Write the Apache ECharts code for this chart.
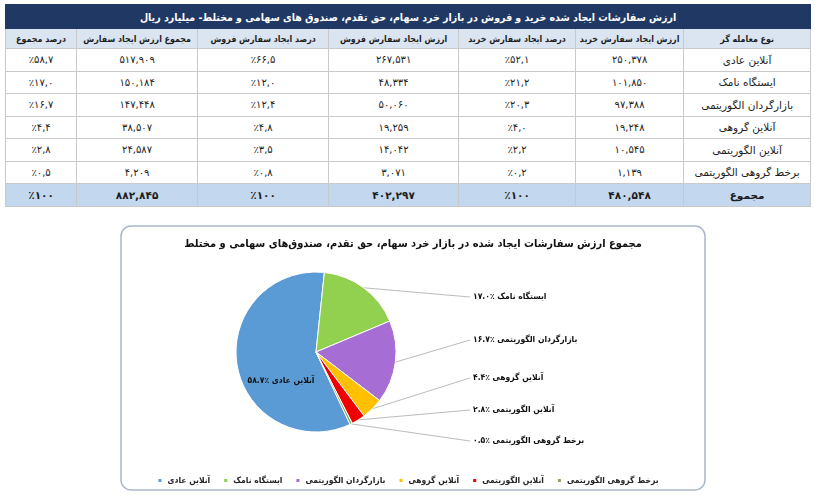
<!DOCTYPE html>
<html lang="fa">
<head>
    <meta charset="UTF-8">
    <title>ارزش سفارشات ایجاد شده</title>
    <style>
        html, body { margin: 0; padding: 0; background: #fff; }
        body { width: 815px; height: 496px; position: relative; overflow: hidden; font-family: 'DejaVu Sans', sans-serif; }
        .tbl { position: absolute; left: 5px; top: 4px; width: 806px; border-collapse: collapse; table-layout: fixed; border: 1.5px solid #27344f; }
        .tbl td, .tbl th { border: 1px solid #c9c9c9; text-align: center; padding: 0; white-space: nowrap; overflow: hidden; color: #1d1d1d; }
        .tbl .cap td { background: #1f3864; color: #fff; font-family: 'DejaVu Sans Condensed', 'DejaVu Sans'; font-weight: bold; font-size: 10.5px; height: 23px; border-color: #1f3864; }
        .tbl .head th { background: #dbe5f1; font-family: 'DejaVu Sans Condensed', 'DejaVu Sans'; font-size: 8.8px; height: 19px; }
        .tbl .row td { height: 21.5px; font-size: 10px; }
        .tbl .row td.name { font-size: 10.5px; }
        .tbl .sum td { background: #c3d8ee; font-weight: bold; font-size: 10.5px; height: 21.5px; }
        #chart { position: absolute; left: 0; top: 0; width: 815px; height: 496px; }
    </style>
</head>
<body>
<table class="tbl" dir="rtl" id="tbl"></table>
<div id="chart"></div>

<script src="https://cdn.jsdelivr.net/npm/echarts/dist/echarts.min.js"></script>
<script>
    // ---- data (میلیارد ریال) ----
    var tableTitle = 'ارزش سفارشات ایجاد شده خرید و فروش در بازار خرد سهام، حق تقدم، صندوق های سهامی و مختلط- میلیارد ریال';
    var columns = ['نوع معامله گر', 'ارزش ایجاد سفارش خرید', 'درصد ایجاد سفارش خرید', 'ارزش ایجاد سفارش فروش', 'درصد ایجاد سفارش فروش', 'مجموع ارزش ایجاد سفارش', 'درصد مجموع'];
    var traders = ['آنلاین عادی', 'ایستگاه نامک', 'بازارگردان الگوریتمی', 'آنلاین گروهی', 'آنلاین الگوریتمی', 'برخط گروهی الگوریتمی'];
    var buyValue = [250378, 101850, 97388, 19248, 10545, 1139];
    var buyPct = [52.1, 21.2, 20.3, 4.0, 2.2, 0.2];
    var sellValue = [267531, 48334, 50060, 19259, 14042, 3071];
    var sellPct = [66.5, 12.0, 12.4, 4.8, 3.5, 0.8];
    var totalValue = [517909, 150184, 147448, 38507, 24587, 4209];
    var totalPct = [58.7, 17.0, 16.7, 4.4, 2.8, 0.5];
    var sumLabel = 'مجموع';
    var sumValues = [480548, 402297, 882845];

    var chartTitle = 'مجموع ارزش سفارشات ایجاد شده در بازار خرد سهام، حق تقدم، صندوق‌های سهامی و مختلط';
    var colors = ['#5b9bd5', '#92d050', '#a66ed5', '#ffc000', '#f00000', '#86a864'];

    // ---- helpers ----
    var faDigits = '۰۱۲۳۴۵۶۷۸۹';
    function toFa(s) {
        return String(s).replace(/\d/g, function (d) { return faDigits[d]; });
    }
    function fmtValue(v) {
        return toFa(String(v).replace(/\B(?=(\d{3})+(?!\d))/g, ','));
    }
    function fmtPct(p, sep) {
        var s = p === 100 ? '100' : p.toFixed(1).replace('.', sep);
        return '٪' + toFa(s);
    }

    // ---- table ----
    var widths = [127, 108, 117, 130, 131, 121, 71];
    var html = '<colgroup>' + widths.map(function (w) { return '<col style="width:' + w + 'px">'; }).join('') + '</colgroup>';
    html += '<tr class="cap"><td colspan="7">' + tableTitle + '</td></tr>';
    html += '<tr class="head">' + columns.map(function (c) { return '<th>' + c + '</th>'; }).join('') + '</tr>';
    for (var i = 0; i < traders.length; i++) {
        html += '<tr class="row"><td class="name">' + traders[i] + '</td>' +
            '<td>' + fmtValue(buyValue[i]) + '</td>' +
            '<td>' + fmtPct(buyPct[i], ',') + '</td>' +
            '<td>' + fmtValue(sellValue[i]) + '</td>' +
            '<td>' + fmtPct(sellPct[i], ',') + '</td>' +
            '<td>' + fmtValue(totalValue[i]) + '</td>' +
            '<td>' + fmtPct(totalPct[i], ',') + '</td></tr>';
    }
    html += '<tr class="sum"><td>' + sumLabel + '</td>' +
        '<td>' + fmtValue(sumValues[0]) + '</td><td>' + fmtPct(100) + '</td>' +
        '<td>' + fmtValue(sumValues[1]) + '</td><td>' + fmtPct(100) + '</td>' +
        '<td>' + fmtValue(sumValues[2]) + '</td><td>' + fmtPct(100) + '</td></tr>';
    document.getElementById('tbl').innerHTML = html;

    // ---- pie ----
    var sum = totalValue.reduce(function (a, b) { return a + b; }, 0);
    var pieData = traders.map(function (name, i) {
        var item = { name: name, value: totalValue[i], itemStyle: { color: colors[i] } };
        if (i === 0) {
            item.label = { position: 'inside' };
            item.labelLine = { show: false };
        }
        return item;
    });
    // label placement (px), outside labels line up on the right
    var labelX = 473;
    var labelY = [381, 297, 340, 378, 410, 441];
    var insideX = 281;
    var cond = '"DejaVu Sans Condensed", "DejaVu Sans"';

    var myChart = echarts.init(document.getElementById('chart'));
    var option = {
        animation: false,
        textStyle: { fontFamily: cond },
        graphic: [
            {
                type: 'rect', z: -10,
                shape: { x: 121, y: 226, width: 584, height: 264, r: 10 },
                style: { fill: '#fff', stroke: '#a9b7ca', lineWidth: 1.5 }
            },
            {
                type: 'text', z: 10,
                x: 413, y: 244,
                style: { text: chartTitle, align: 'center', verticalAlign: 'middle', font: 'bold 11px ' + cond, fill: '#111' }
            }
        ],
        legend: {
            left: 'center',
            top: 471,
            icon: 'rect',
            itemWidth: 5,
            itemHeight: 5,
            itemGap: 12,
            textStyle: { fontSize: 8.5, fontWeight: 'bold', color: '#262626', fontFamily: cond },
            data: traders
        },
        series: [
            {
                type: 'pie',
                center: [316, 352],
                radius: 80,
                startAngle: 84 + 360 * totalValue[0] / sum,
                clockwise: true,
                itemStyle: { borderColor: '#fff', borderWidth: 1 },
                label: {
                    position: 'outside',
                    fontSize: 8.5,
                    fontWeight: 'bold',
                    fontFamily: cond,
                    color: '#111',
                    formatter: function (p) {
                        return p.name + ' ' + fmtPct(p.value / sum * 100, '.');
                    }
                },
                labelLine: { lineStyle: { color: '#bcbcbc', width: 1 } },
                labelLayout: function (p) {
                    if (p.dataIndex === 0) {
                        return { x: insideX, y: labelY[0], align: 'center', verticalAlign: 'middle' };
                    }
                    var y = labelY[p.dataIndex];
                    var res = { x: labelX, y: y, align: 'left', verticalAlign: 'middle' };
                    if (p.labelLinePoints) {
                        var p0 = p.labelLinePoints[0];
                        res.labelLinePoints = [p0, p0, [labelX - 3, y]];
                    }
                    return res;
                },
                data: pieData
            }
        ]
    };
    myChart.setOption(option);
</script>
</body>
</html>
